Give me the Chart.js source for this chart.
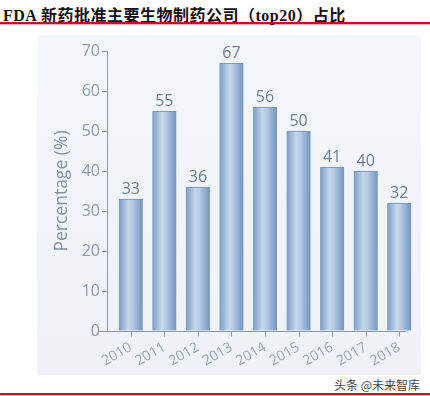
<!DOCTYPE html>
<html>
<head>
<meta charset="utf-8">
<script src="https://cdn.jsdelivr.net/npm/chart.js@4.4.1/dist/chart.umd.min.js"></script>
<style>
  html, body { margin: 0; padding: 0; background: #fff; }
  #wrap { position: relative; width: 430px; height: 396px; overflow: hidden; }
  #title { position: absolute; left: 3px; top: 2px; font: bold 16px "Liberation Serif", "Noto Sans CJK SC", serif; letter-spacing: 0.5px; color: #111; white-space: nowrap; }
  .rule { position: absolute; left: 0; width: 430px; height: 2px; background: #b3181c; box-shadow: 0 1px 1px rgba(150,20,20,0.35); }
  #panel { position: absolute; left: 37px; top: 35px; width: 384px; height: 340px; background: linear-gradient(180deg, #f3f6fa 0%, #eef2f7 100%); }
  #mark { position: absolute; right: 10px; top: 376px; font: 12px "Noto Sans CJK SC", sans-serif; color: #444; }
  canvas { position: absolute; left: 0; top: 0; }
</style>
</head>
<body>
<div id="wrap">
  <div id="title">FDA 新药批准主要生物制药公司（top20）占比</div>
  <div class="rule" style="top:22px"></div>
  <div id="panel"></div>
  <div id="mark">头条 @未来智库</div>
  <div class="rule" style="top:393px"></div>
  <canvas id="myChart" width="430" height="396"></canvas>
</div>
<script>
const years = ['2010', '2011', '2012', '2013', '2014', '2015', '2016', '2017', '2018'];
const percentages = [33, 55, 36, 67, 56, 50, 41, 40, 32];
const yTicks = [0, 10, 20, 30, 40, 50, 60, 70];

const FONT = '"Open Sans", "Lato", sans-serif';
const AXIS_COLOR = '#8e99a6';

function barGradient(context) {
  const chart = context.chart;
  const xScale = chart.scales.x;
  if (!chart.chartArea || !xScale) {
    return '#a9c0db';
  }
  const cx = xScale.getPixelForValue(context.dataIndex);
  const g = chart.ctx.createLinearGradient(cx - 12, 0, cx + 12, 0);
  g.addColorStop(0, '#7b9cc3');
  g.addColorStop(0.4, '#c6d8ec');
  g.addColorStop(0.55, '#b8cde6');
  g.addColorStop(1, '#7394bc');
  return g;
}

// axis lines and tick marks, drawn like the original (offset from plot)
const axesPlugin = {
  id: 'axes',
  afterDraw(chart) {
    const { ctx, chartArea } = chart;
    const yScale = chart.scales.y;
    const xScale = chart.scales.x;
    const ax = chartArea.left - 7;
    ctx.save();
    ctx.strokeStyle = AXIS_COLOR;
    ctx.lineWidth = 1;
    ctx.beginPath();
    ctx.moveTo(ax + 0.5, yScale.getPixelForValue(70));
    ctx.lineTo(ax + 0.5, chartArea.bottom);
    yTicks.forEach((t) => {
      const y = Math.round(yScale.getPixelForValue(t)) + 0.5;
      ctx.moveTo(ax - 5, y);
      ctx.lineTo(ax + 0.5, y);
    });
    const by = Math.round(chartArea.bottom) + 0.5;
    ctx.moveTo(ax - 8, by);
    ctx.lineTo(chartArea.right - 10, by);
    years.forEach((yr, i) => {
      const x = Math.round(xScale.getPixelForValue(i)) + 0.5;
      ctx.moveTo(x, by);
      ctx.lineTo(x, by + 5);
    });
    ctx.stroke();
    ctx.restore();
  },
};

// value labels above bars
const labelPlugin = {
  id: 'valueLabels',
  afterDatasetsDraw(chart) {
    const { ctx } = chart;
    const meta = chart.getDatasetMeta(0);
    ctx.save();
    ctx.font = '16px ' + FONT;
    ctx.fillStyle = '#6b7f96';
    ctx.textAlign = 'center';
    ctx.textBaseline = 'bottom';
    meta.data.forEach((bar, i) => {
      ctx.fillText(String(percentages[i]), bar.x, bar.y - 2);
    });
    ctx.restore();
  },
};

const ctx = document.getElementById('myChart').getContext('2d');

const myChart = new Chart(ctx, {
  type: 'bar',
  data: {
    labels: years,
    datasets: [
      {
        data: percentages,
        backgroundColor: barGradient,
        borderColor: '#6f8fb6',
        borderWidth: { top: 1, left: 0, right: 0, bottom: 0 },
        barThickness: 24,
      },
    ],
  },
  options: {
    responsive: false,
    animation: false,
    layout: { padding: { left: 37, top: 51, right: 14, bottom: 15 } },
    plugins: {
      legend: { display: false },
      tooltip: { enabled: false },
    },
    scales: {
      x: {
        afterFit: (s) => { s.height = 50; },
        grid: { display: true, drawOnChartArea: false, drawTicks: false },
        border: { display: false },
        ticks: {
          autoSkip: false,
          minRotation: 30,
          maxRotation: 30,
          padding: 8,
          color: '#9aa8b8',
          font: { family: FONT, size: 14 },
        },
      },
      y: {
        min: 0,
        max: 70,
        afterFit: (s) => { s.width = 77; },
        grid: { display: true, drawOnChartArea: false, drawTicks: false },
        border: { display: false },
        ticks: {
          stepSize: 10,
          padding: 14,
          color: '#8d9cad',
          font: { family: FONT, size: 16 },
        },
        title: {
          display: true,
          text: 'Percentage (%)',
          color: '#7f93a9',
          padding: { top: 15, bottom: 0 },
          font: { family: FONT, size: 17.5 },
        },
      },
    },
  },
  plugins: [axesPlugin, labelPlugin],
});
</script>
</body>
</html>
